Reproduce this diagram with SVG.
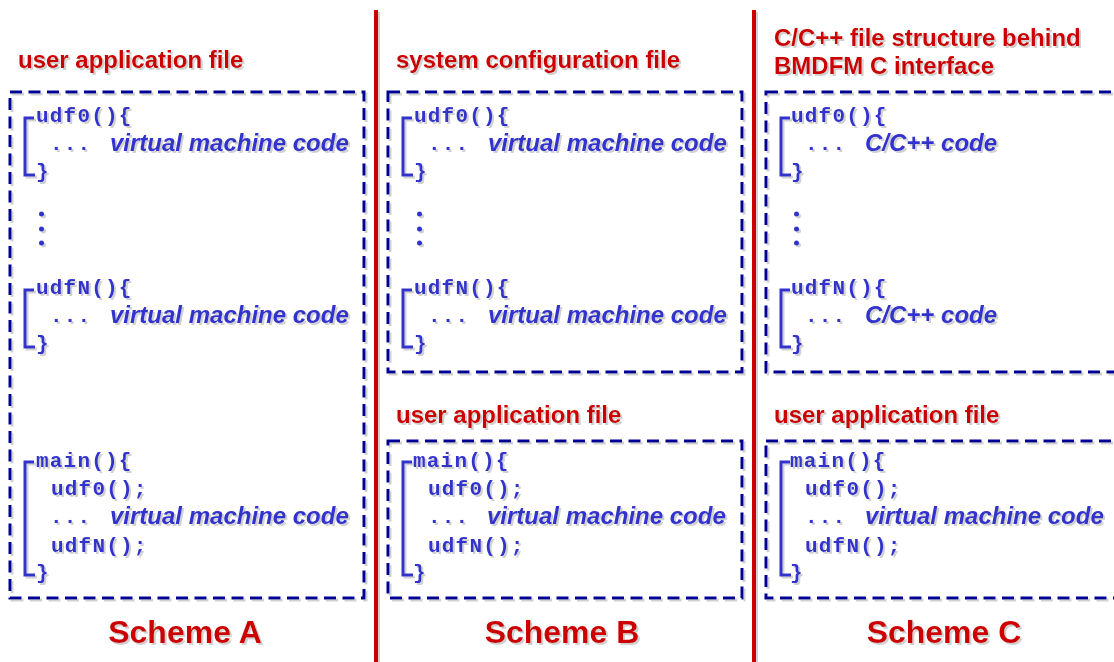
<svg xmlns="http://www.w3.org/2000/svg" width="1114" height="662" viewBox="0 0 1114 662">
<defs>
<filter id="sh" x="-5%" y="-5%" width="110%" height="110%">
<feDropShadow dx="2" dy="2" stdDeviation="0.6" flood-color="#999" flood-opacity="0.45"/>
</filter>
<style>
.title{font-family:"Liberation Sans",Arial,sans-serif;font-weight:bold;font-size:24px;fill:#cc0000}
.scheme{font-family:"Liberation Sans",Arial,sans-serif;font-weight:bold;font-size:32px;fill:#cc0000;text-anchor:middle}
.code{font-family:"Liberation Mono","Courier New",monospace;font-weight:bold;font-size:21px;letter-spacing:1.2px;fill:#3333cc}
.it{font-family:"Liberation Sans",Arial,sans-serif;font-weight:bold;font-style:italic;font-size:24px;fill:#3333cc}
.box{fill:none;stroke:#000099;stroke-width:3;stroke-dasharray:12 6.5}
.br{fill:none;stroke:#3333cc;stroke-width:3}
.sep{stroke:#cc0000;stroke-width:4}
.dot{fill:#3333cc}
</style>
</defs>
<rect width="1114" height="662" fill="#ffffff"/>
<g filter="url(#sh)">
<g id="separators">
<line class="sep" x1="376" y1="10" x2="376" y2="662"/>
<line class="sep" x1="754" y1="10" x2="754" y2="662"/>
</g>

<g id="schemeA">
<text class="title" x="18" y="68">user application file</text>
<rect class="box" x="10" y="92" width="354" height="506"/>
<path class="br" d="M34,118 H25 V175 H35"/>
<text class="code" x="36" y="122">udf0(){</text>
<text class="code" x="50" y="150">...</text>
<text class="it" x="110" y="151">virtual machine code</text>
<text class="code" x="36" y="178">}</text>
<circle class="dot" cx="41.5" cy="214" r="2.5"/>
<circle class="dot" cx="41.5" cy="229" r="2.5"/>
<circle class="dot" cx="41.5" cy="243" r="2.5"/>
<path class="br" d="M34,290 H25 V347 H35"/>
<text class="code" x="36" y="294">udfN(){</text>
<text class="code" x="50" y="322">...</text>
<text class="it" x="110" y="323">virtual machine code</text>
<text class="code" x="36" y="350">}</text>
<path class="br" d="M34,462 H25 V575 H35"/>
<text class="code" x="36" y="467">main(){</text>
<text class="code" x="51" y="495">udf0();</text>
<text class="code" x="50" y="523">...</text>
<text class="it" x="110" y="524">virtual machine code</text>
<text class="code" x="51" y="552">udfN();</text>
<text class="code" x="36" y="579">}</text>
<text class="scheme" x="185" y="643">Scheme A</text>
</g>

<g id="schemeB">
<text class="title" x="396" y="68">system configuration file</text>
<rect class="box" x="388" y="92" width="354" height="280"/>
<path class="br" d="M412,118 H403 V175 H413"/>
<text class="code" x="414" y="122">udf0(){</text>
<text class="code" x="428" y="150">...</text>
<text class="it" x="488" y="151">virtual machine code</text>
<text class="code" x="414" y="178">}</text>
<circle class="dot" cx="419.5" cy="214" r="2.5"/>
<circle class="dot" cx="419.5" cy="229" r="2.5"/>
<circle class="dot" cx="419.5" cy="243" r="2.5"/>
<path class="br" d="M412,290 H403 V347 H413"/>
<text class="code" x="414" y="294">udfN(){</text>
<text class="code" x="428" y="322">...</text>
<text class="it" x="488" y="323">virtual machine code</text>
<text class="code" x="414" y="350">}</text>
<text class="title" x="396" y="423">user application file</text>
<rect class="box" x="388" y="441" width="354" height="157"/>
<path class="br" d="M412,462 H403 V575 H413"/>
<text class="code" x="413" y="467">main(){</text>
<text class="code" x="428" y="495">udf0();</text>
<text class="code" x="428" y="523">...</text>
<text class="it" x="487" y="524">virtual machine code</text>
<text class="code" x="428" y="552">udfN();</text>
<text class="code" x="413" y="579">}</text>
<text class="scheme" x="562" y="643">Scheme B</text>
</g>

<g id="schemeC">
<text class="title" x="774" y="46">C/C++ file structure behind</text>
<text class="title" x="774" y="74">BMDFM C interface</text>
<rect class="box" x="766" y="92" width="360" height="280"/>
<path class="br" d="M790,118 H781 V175 H791"/>
<text class="code" x="791" y="122">udf0(){</text>
<text class="code" x="805" y="150">...</text>
<text class="it" x="865" y="151">C/C++ code</text>
<text class="code" x="791" y="178">}</text>
<circle class="dot" cx="796.5" cy="214" r="2.5"/>
<circle class="dot" cx="796.5" cy="229" r="2.5"/>
<circle class="dot" cx="796.5" cy="243" r="2.5"/>
<path class="br" d="M790,290 H781 V347 H791"/>
<text class="code" x="791" y="294">udfN(){</text>
<text class="code" x="805" y="322">...</text>
<text class="it" x="865" y="323">C/C++ code</text>
<text class="code" x="791" y="350">}</text>
<text class="title" x="774" y="423">user application file</text>
<rect class="box" x="766" y="441" width="360" height="157"/>
<path class="br" d="M790,462 H781 V575 H791"/>
<text class="code" x="790" y="467">main(){</text>
<text class="code" x="805" y="495">udf0();</text>
<text class="code" x="805" y="523">...</text>
<text class="it" x="865" y="524">virtual machine code</text>
<text class="code" x="805" y="552">udfN();</text>
<text class="code" x="790" y="579">}</text>
<text class="scheme" x="944" y="643">Scheme C</text>
</g>
</g>
</svg>
